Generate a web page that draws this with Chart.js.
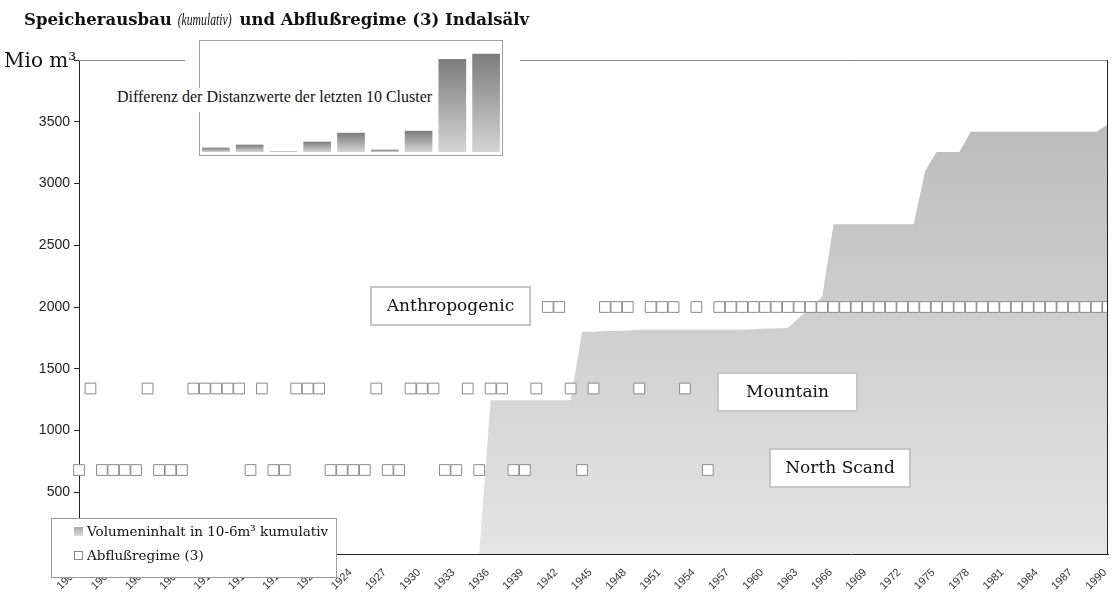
<!DOCTYPE html>
<html lang="de">
<head>
<meta charset="UTF-8" />
<title>Speicherausbau und Abflußregime Indalsälv</title>
<script src="https://cdn.jsdelivr.net/npm/chart.js"></script>
<style>
  body { margin: 0; background: #fff; }
  #wrap { position: relative; width: 1112px; height: 595px; }
  #main { position: absolute; left: 0; top: 0; }
  #inset { position: absolute; left: 185px; top: 36px; background: #fff; }
  #inset-label {
    position: absolute; left: 115px; top: 88px; height: 24px; line-height: 24px;
    padding: 0 2px; background: #fff; color: #111; white-space: nowrap;
    font: 16px "Liberation Serif", serif;
  }
</style>
</head>
<body>
<div id="wrap">
  <canvas id="main" width="1112" height="595"></canvas>
  <canvas id="inset" width="335" height="122"></canvas>
  <div id="inset-label">Differenz der Distanzwerte der letzten 10 Cluster</div>
</div>
<script>
// Jahre 1900 bis 1990
const years = [];
for (let y = 1900; y <= 1990; y++) years.push(String(y));

// Speichervolumen kumulativ, Mio m³ (1900..1990)
const volume = [
  0, 0, 0, 0, 0, 0, 0, 0, 0, 0,
  0, 0, 0, 0, 0, 0, 0, 0, 0, 0,
  0, 0, 0, 0, 0, 0, 0, 0, 0, 0,
  0, 0, 0, 0, 0, 0, 1245, 1245, 1245, 1245,
  1245, 1245, 1245, 1245, 1800, 1800, 1805, 1805, 1810, 1815,
  1815, 1815, 1815, 1815, 1815, 1815, 1815, 1815, 1815, 1820,
  1825, 1825, 1830, 1915, 2000, 2080, 2670, 2670, 2670, 2670,
  2670, 2670, 2670, 2670, 3100, 3255, 3255, 3255, 3420, 3420,
  3420, 3420, 3420, 3420, 3420, 3420, 3420, 3420, 3420, 3420,
  3480
];

// Abflußregime je Jahr: N = North Scand, M = Mountain, A = Anthropogenic
const regime = [
  'N','M','N','N','N','N','M','N','N','N',
  'M','M','M','M','M','N','M','N','N','M',
  'M','M','N','N','N','N','M','N','N','M',
  'M','M','N','N','M','N','M','M','N','N',
  'M','A','A','M','N','M','A','A','A','M',
  'A','A','A','M','A','N','A','A','A','A',
  'A','A','A','A','A','A','A','A','A','A',
  'A','A','A','A','A','A','A','A','A','A',
  'A','A','A','A','A','A','A','A','A','A',
  'A'
];
const regimeLevel = { N: 680, M: 1340, A: 2000 };
const regimeNames = { A: 'Anthropogenic', M: 'Mountain', N: 'North Scand' };

const yTicks = [500, 1000, 1500, 2000, 2500, 3000, 3500];

// Kleines Diagramm: Differenz der Distanzwerte der letzten 10 Cluster
const insetLabels = ['10-9', '9-8', '8-7', '7-6', '6-5', '5-4', '4-3', '3-2', '2-1'];
const insetValues = [0.39, 0.66, 0.05, 0.93, 1.73, 0.21, 1.91, 8.38, 8.86];

const serif = '"DejaVu Serif", serif';

function drawBox(ctx, text, x1, y1, x2, y2) {
  ctx.save();
  ctx.fillStyle = '#fff';
  ctx.fillRect(x1, y1, x2 - x1, y2 - y1);
  ctx.strokeStyle = '#c6c6c6';
  ctx.lineWidth = 2;
  ctx.strokeRect(x1, y1, x2 - x1, y2 - y1);
  ctx.fillStyle = '#111';
  ctx.font = '17px ' + serif;
  ctx.textAlign = 'center';
  ctx.textBaseline = 'middle';
  ctx.fillText(text, (x1 + x2) / 2, (y1 + y2) / 2 + 1);
  ctx.restore();
}

const decorations = {
  id: 'decorations',
  afterDraw(chart) {
    const ctx = chart.ctx;
    const a = chart.chartArea;
    ctx.save();

    // Rahmen oben und rechts
    ctx.strokeStyle = '#8c8c8c';
    ctx.lineWidth = 1;
    ctx.beginPath();
    ctx.moveTo(a.left, a.top + 0.5);
    ctx.lineTo(a.right, a.top + 0.5);
    ctx.stroke();
    ctx.strokeStyle = '#222';
    ctx.beginPath();
    ctx.moveTo(a.right - 0.5, a.top);
    ctx.lineTo(a.right - 0.5, a.bottom);
    ctx.stroke();

    // Titel, Mittelteil kursiv und schmal
    ctx.fillStyle = '#111';
    ctx.textBaseline = 'alphabetic';
    let x = 24;
    ctx.font = 'bold 16.5px ' + serif;
    ctx.fillText('Speicherausbau', x, 25);
    x += ctx.measureText('Speicherausbau').width + 6;
    ctx.font = 'italic 17px "Liberation Serif", serif';
    const w = ctx.measureText('(kumulativ)').width;
    ctx.save();
    ctx.translate(x, 25);
    ctx.scale(54 / w, 1);
    ctx.fillText('(kumulativ)', 0, 0);
    ctx.restore();
    x += 54 + 2;
    ctx.font = 'bold 16.5px ' + serif;
    ctx.fillText(' und Abflußregime (3) Indalsälv', x, 25);

    // Achsentitel
    ctx.font = '20px ' + serif;
    ctx.fillText('Mio m³', 4, 67);

    drawBox(ctx, regimeNames.A, 371, 287, 530, 325);
    drawBox(ctx, regimeNames.M, 718, 373, 857, 411);
    drawBox(ctx, regimeNames.N, 770, 449, 910, 487);

    // Legende
    ctx.fillStyle = '#fff';
    ctx.fillRect(51, 518, 286, 60);
    ctx.strokeStyle = '#9a9a9a';
    ctx.lineWidth = 1;
    ctx.strokeRect(51.5, 518.5, 285, 59);
    const g = ctx.createLinearGradient(0, 527, 0, 536);
    g.addColorStop(0, '#a8a8a8');
    g.addColorStop(1, '#dcdcdc');
    ctx.fillStyle = g;
    ctx.fillRect(74, 527, 9, 9);
    ctx.fillStyle = '#fff';
    ctx.fillRect(74, 551, 9, 9);
    ctx.strokeStyle = '#8a8a8a';
    ctx.strokeRect(74.5, 551.5, 8, 8);
    ctx.fillStyle = '#111';
    ctx.font = '13.5px ' + serif;
    ctx.textBaseline = 'middle';
    ctx.fillText('Volumeninhalt in 10-6m³ kumulativ', 87, 532);
    ctx.fillText('Abflußregime (3)', 87, 556);

    ctx.restore();
  }
};

new Chart(document.getElementById('main'), {
  type: 'line',
  data: {
    labels: years,
    datasets: [
      {
        label: 'Abflußregime (3)',
        data: regime.map(c => regimeLevel[c]),
        showLine: false,
        pointStyle: 'rect',
        pointRadius: 7.6,
        pointBorderWidth: 1,
        pointBorderColor: '#8a8a8a',
        pointBackgroundColor: '#fff',
        clip: { left: 10, top: 10, right: 0, bottom: 10 }
      },
      {
        label: 'Volumeninhalt in 10-6m³ kumulativ',
        data: volume,
        fill: 'origin',
        borderWidth: 0,
        pointRadius: 0,
        tension: 0,
        backgroundColor: (c) => {
          const area = c.chart.chartArea;
          if (!area) return '#d0d0d0';
          const g = c.chart.ctx.createLinearGradient(0, area.top, 0, area.bottom);
          g.addColorStop(0, '#b6b6b6');
          g.addColorStop(1, '#e4e4e4');
          return g;
        }
      }
    ]
  },
  options: {
    responsive: false,
    animation: false,
    devicePixelRatio: 1,
    events: [],
    layout: { autoPadding: false, padding: { top: 60, right: 4, left: 0, bottom: 0 } },
    plugins: { legend: { display: false }, tooltip: { enabled: false } },
    scales: {
      x: {
        offset: false,
        grid: { display: false, drawTicks: false },
        border: { display: true, color: '#222', width: 1 },
        afterFit: (s) => {
          s.height = 41;
          s.paddingLeft = 0;
          s.paddingRight = 0;
        },
        ticks: {
          autoSkip: false,
          minRotation: 45,
          maxRotation: 45,
          padding: 12,
          labelOffset: -3,
          color: '#333',
          font: { family: '"Liberation Sans", Arial, sans-serif', size: 11 },
          callback: (v, i) => (i % 3 === 0 ? years[i] : '')
        }
      },
      y: {
        min: 0,
        max: 4000,
        afterFit: (s) => { s.width = 79; },
        afterBuildTicks: (s) => { s.ticks = [0, ...yTicks, 4000].map(v => ({ value: v })); },
        grid: { drawOnChartArea: false, tickLength: 5, color: '#222' },
        border: { display: true, color: '#222', width: 1 },
        ticks: {
          padding: 4,
          color: '#222',
          font: { family: '"Liberation Sans", Arial, sans-serif', size: 14 },
          callback: (v) => (yTicks.includes(v) ? String(v) : '')
        }
      }
    }
  },
  plugins: [decorations]
});

const insetFrame = {
  id: 'insetFrame',
  afterDraw(chart) {
    const ctx = chart.ctx;
    ctx.save();
    ctx.strokeStyle = '#a0a0a0';
    ctx.lineWidth = 1;
    ctx.strokeRect(14.5, 4.5, 303, 115);
    ctx.restore();
  }
};

new Chart(document.getElementById('inset'), {
  type: 'bar',
  data: {
    labels: insetLabels,
    datasets: [{
      data: insetValues,
      barPercentage: 0.82,
      categoryPercentage: 1,
      borderWidth: 0,
      backgroundColor: (c) => {
        const ys = c.chart.scales.y;
        if (c.type !== 'data' || !ys) return '#a0a0a0';
        const top = ys.getPixelForValue(c.raw);
        const base = ys.getPixelForValue(0);
        if (!isFinite(top) || !isFinite(base) || base - top < 1) return '#9a9a9a';
        const g = c.chart.ctx.createLinearGradient(0, top, 0, base);
        g.addColorStop(0, '#7c7c7c');
        g.addColorStop(1, '#d4d4d4');
        return g;
      }
    }]
  },
  options: {
    responsive: false,
    animation: false,
    devicePixelRatio: 1,
    events: [],
    layout: { padding: { left: 14, right: 17, top: 5, bottom: 6 } },
    plugins: { legend: { display: false }, tooltip: { enabled: false } },
    scales: {
      x: { display: false },
      y: { display: false, min: 0, max: 10 }
    }
  },
  plugins: [insetFrame]
});
</script>
</body>
</html>
